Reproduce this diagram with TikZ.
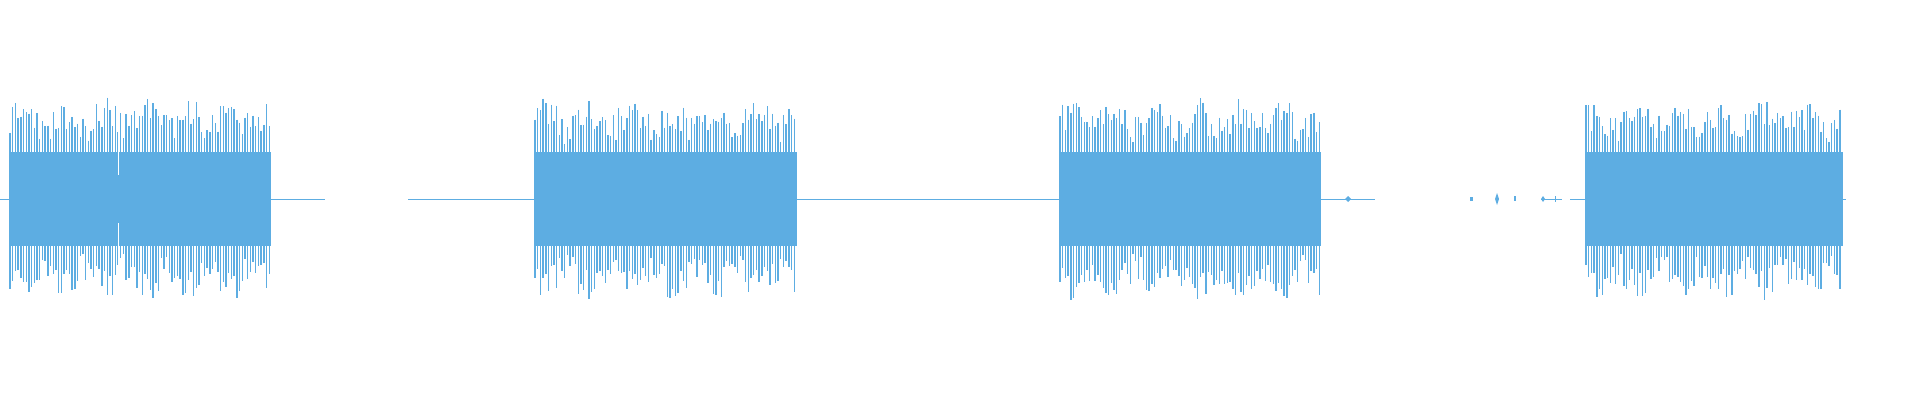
\documentclass[tikz,border=0pt]{standalone}
\definecolor{wave}{HTML}{5DADE2}
\tikzset{wline/.style={draw=wave,line width=1pt},spike/.style={draw=wave,line width=1.4pt}}
\begin{document}
\begin{tikzpicture}[x=1pt,y=-1pt]
\useasboundingbox (0,0) rectangle (1920,400);
\pgfmathsetseed{7}
% baseline segments
\draw[wline] (0,199) -- (10,199);
\draw[wline] (270,199) -- (325,199);
\draw[wline] (408,199) -- (534,199);
\draw[wline] (797,199) -- (1059,199);
\draw[wline] (1321,199) -- (1375,199);
\draw[wline] (1570,199) -- (1585,199);
\draw[wline] (1843,199) -- (1846,199);
% small noise
\fill[wave] (1348,196) -- (1351,199) -- (1348,202) -- (1345,199) -- cycle;
\fill[wave] (1272,197) rectangle (1280,201);
\fill[wave] (1470,197) rectangle (1473,201);
\fill[wave] (1497,193) -- (1499,199) -- (1497,205) -- (1495,199) -- cycle;
\fill[wave] (1514,196) rectangle (1515.5,201);
\fill[wave] (1543,196) -- (1545,199) -- (1543,202) -- (1541,199) -- cycle;
\draw[wline] (1541,199) -- (1562,199);
\fill[wave] (1555,196) rectangle (1556,202);
% bursts
\foreach \a/\b in {9/271,534/797,1059/1321,1585/1843}{
  \fill[wave] (\a,152) rectangle (\b,246);
  \pgfmathsetmacro{\n}{int((\b-\a-2)/2.7)}
  \foreach \i in {0,...,\n}{
    \pgfmathsetmacro{\xx}{\a+1+\i*2.7}
    \pgfmathsetmacro{\env}{94+8*sin(\i*23)}
    \pgfmathsetmacro{\up}{\env-32*rnd}
    \pgfmathsetmacro{\dn}{\env-32*rnd}
    \draw[spike] (\xx,199-\up) -- (\xx,199+\dn);
  }
}
% dip in first burst
\fill[white] (118,120) rectangle (119.2,175);
\fill[white] (118,223) rectangle (119.2,280);
\end{tikzpicture}
\end{document}
